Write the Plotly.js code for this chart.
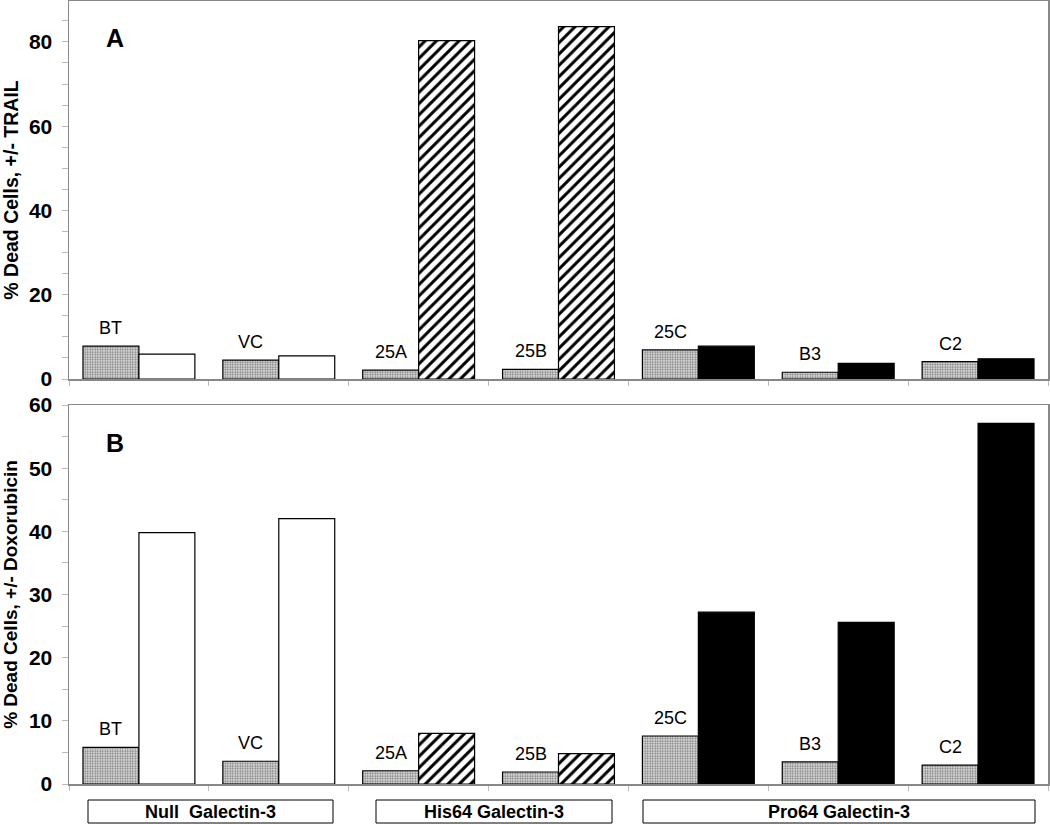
<!DOCTYPE html>
<html>
<head>
<meta charset="utf-8">
<script src="https://cdn.plot.ly/plotly-3.0.1.min.js"></script>
<style>html,body{margin:0;padding:0;background:#fff;}#chart{width:1050px;height:824px;}</style>
</head>
<body>
<div id="chart"></div>
<script>
// ---- data ----
const cellLines = ["BT", "VC", "25A", "25B", "25C", "B3", "C2"];
const groupOf = ["Null", "Null", "His64", "His64", "Pro64", "Pro64", "Pro64"];
const trailControl = [7.8, 4.5, 2.1, 2.3, 6.9, 1.6, 4.1];
const trailTreated = [5.9, 5.5, 80.3, 83.6, 7.8, 3.7, 4.8];
const doxControl = [5.8, 3.6, 2.1, 1.9, 7.6, 3.5, 3.0];
const doxTreated = [39.8, 42.0, 8.0, 4.8, 27.2, 25.6, 57.1];
const groups = ["Null", "His64", "Pro64"];
const groupLabels = ["Null  Galectin-3", "His64 Galectin-3", "Pro64 Galectin-3"];
const panelLetters = ["A", "B"];
const yTitles = ["% Dead Cells, +/- TRAIL", "% Dead Cells, +/- Doxorubicin"];

// ---- styles ----
const treatedStyle = {
  Null: {color: "#ffffff", pattern: {shape: ""}},
  His64: {color: "#ffffff", pattern: {shape: "/", fgcolor: "#000", bgcolor: "#fff", size: 8, solidity: 0.38}},
  Pro64: {color: "#000000", pattern: {shape: ""}}
};

function controlTrace(vals, xa, ya) {
  return {
    type: "bar", x: cellLines, y: vals, xaxis: xa, yaxis: ya, offsetgroup: "c",
    marker: {
      color: "#d0d0d0",
      line: {color: "#000", width: 1.2},
      pattern: {shape: ".", fgcolor: "#7a7a7a", bgcolor: "#e4e4e4", size: 2.5, solidity: 0.45}
    },
    hoverinfo: "skip", showlegend: false
  };
}
function treatedTraces(vals, xa, ya) {
  return groups.map(g => ({
    type: "bar", x: cellLines,
    y: vals.map((v, i) => groupOf[i] === g ? v : null),
    xaxis: xa, yaxis: ya, offsetgroup: "t",
    marker: Object.assign({line: {color: "#000", width: 1.2}}, treatedStyle[g]),
    hoverinfo: "skip", showlegend: false
  }));
}

const data = [controlTrace(trailControl, "x", "y")]
  .concat(treatedTraces(trailTreated, "x", "y"))
  .concat([controlTrace(doxControl, "x2", "y2")])
  .concat(treatedTraces(doxTreated, "x2", "y2"));

const H = 824;
const pY = px => (H - px) / H;
const L = 69, R = 1048;
const pX = px => (px - L) / (R - L);

const FF = "Liberation Sans, Arial, sans-serif";
const tickFont = {family: FF, size: 21, color: "#000", weight: "bold"};

function xAxis(anchor) {
  return {
    type: "category", anchor: anchor, range: [-0.5, 6.5],
    showticklabels: false, ticks: "outside", tickson: "boundaries", ticklen: 5, tickcolor: "#bbb",
    showline: true, linecolor: "#888", linewidth: 1.5, mirror: true,
    showgrid: false, zeroline: false, fixedrange: true
  };
}
function yAxis(anchor, domain, max, dtick, title, tsize) {
  return {
    anchor: anchor, domain: domain, range: [0, max], dtick: dtick,
    ticks: "outside", ticklen: 6, tickcolor: "#bbb", tickfont: tickFont, ticklabelstandoff: 5,
    minor: {dtick: 5, ticks: "outside", ticklen: 6, tickcolor: "#bbb", showgrid: false},
    showline: true, linecolor: "#888", linewidth: 1.5, mirror: true,
    showgrid: false, zeroline: false, fixedrange: true,
    title: {text: title, font: {family: FF, size: tsize, color: "#000", weight: "bold"}, standoff: 7}
  };
}

const annotations = [];
function addLabels(vals, xa, ya) {
  cellLines.forEach((c, i) => {
    annotations.push({
      xref: xa, yref: ya, x: c, y: vals[i], xshift: -28, yshift: 6,
      yanchor: "bottom", xanchor: "center", showarrow: false, text: c,
      font: {family: FF, size: 18, color: "#000"}
    });
  });
}
addLabels(trailControl, "x", "y");
addLabels(doxControl, "x2", "y2");

annotations.push({xref: "paper", yref: "paper", x: pX(115), y: pY(38), text: panelLetters[0], showarrow: false,
  xanchor: "center", yanchor: "middle",
  font: {family: FF, size: 25, color: "#000", weight: "bold"}});
annotations.push({xref: "paper", yref: "paper", x: pX(115), y: pY(443), text: panelLetters[1], showarrow: false,
  xanchor: "center", yanchor: "middle",
  font: {family: FF, size: 25, color: "#000", weight: "bold"}});

const boxes = [[88, 333], [376, 612], [643, 1035]];
const shapes = [];
boxes.forEach((b, i) => {
  shapes.push({type: "rect", xref: "paper", yref: "paper", x0: pX(b[0]), x1: pX(b[1]), y0: pY(823), y1: pY(800),
    line: {color: "#000", width: 1}, fillcolor: "rgba(0,0,0,0)"});
  annotations.push({xref: "paper", yref: "paper", x: pX((b[0] + b[1]) / 2), y: pY(812), text: groupLabels[i],
    showarrow: false, xanchor: "center", yanchor: "middle",
    font: {family: FF, size: 18, color: "#000", weight: "bold"}});
});

const layout = {
  width: 1050, height: 824,
  margin: {l: L, r: 1050 - R, t: 0, b: 0},
  paper_bgcolor: "#fff", plot_bgcolor: "#fff",
  barmode: "group", bargap: 0.2, bargroupgap: 0,
  xaxis: xAxis("y"),
  yaxis: yAxis("x", [pY(379), pY(1)], 89.7, 20, yTitles[0], 19.5),
  xaxis2: xAxis("y2"),
  yaxis2: yAxis("x2", [pY(784), pY(405)], 60, 10, yTitles[1], 19),
  annotations: annotations,
  shapes: shapes,
  showlegend: false
};

Plotly.newPlot("chart", data, layout, {displayModeBar: false, staticPlot: true});
</script>
</body>
</html>
